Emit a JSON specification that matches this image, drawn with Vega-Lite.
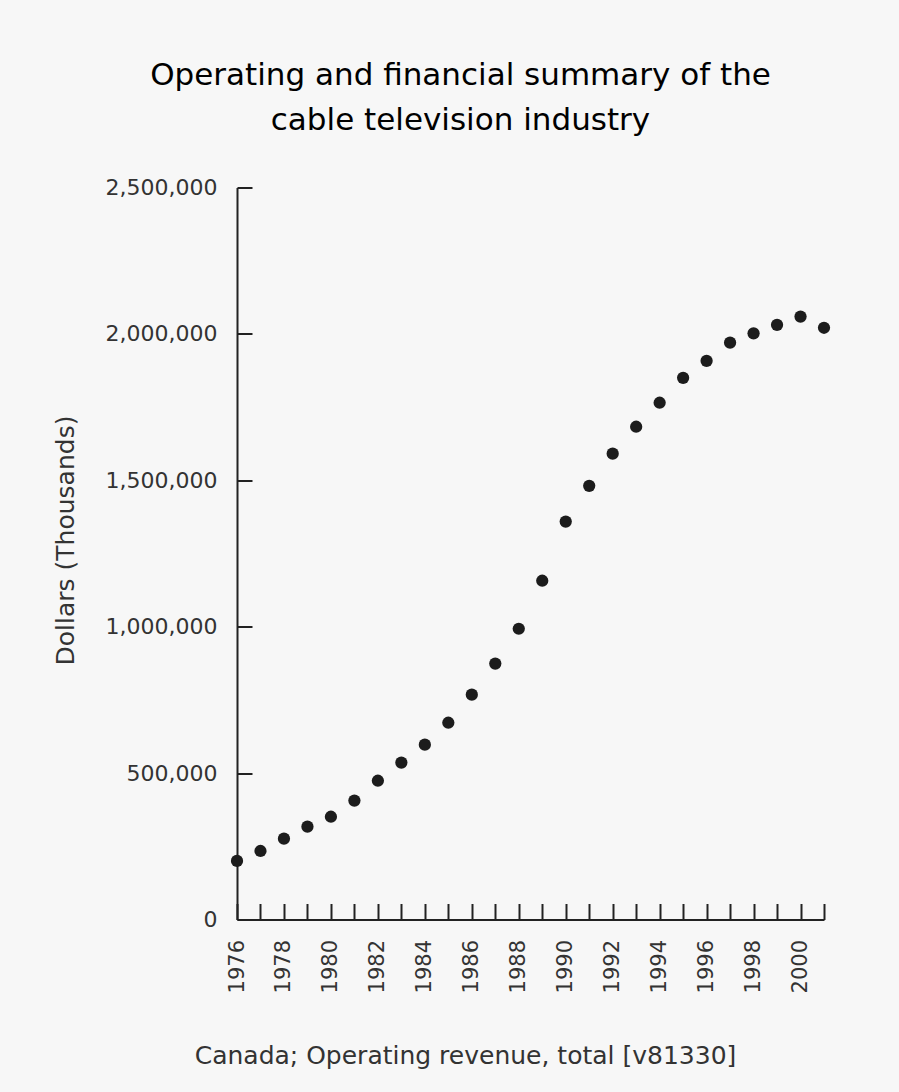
{
  "$schema": "https://vega.github.io/schema/vega-lite/v6.json",
  "width": 587,
  "height": 732,
  "autosize": {"type": "none"},
  "padding": {"left": 237, "top": 187.5, "right": 75, "bottom": 172.5},
  "background": "#f7f7f7",
  "title": {
    "text": ["Operating and financial summary of the", "cable television industry"],
    "font": "DejaVu Sans",
    "fontSize": 31,
    "fontWeight": "normal",
    "color": "#000000",
    "lineHeight": 45,
    "anchor": "middle",
    "dx": -70,
    "offset": 40
  },
  "data": {
    "values": [
      {"year": 1976, "revenue": 200000},
      {"year": 1977, "revenue": 234000},
      {"year": 1978, "revenue": 276000},
      {"year": 1979, "revenue": 317000},
      {"year": 1980, "revenue": 351000},
      {"year": 1981, "revenue": 406000},
      {"year": 1982, "revenue": 474000},
      {"year": 1983, "revenue": 536000},
      {"year": 1984, "revenue": 597000},
      {"year": 1985, "revenue": 672000},
      {"year": 1986, "revenue": 768000},
      {"year": 1987, "revenue": 874000},
      {"year": 1988, "revenue": 993000},
      {"year": 1989, "revenue": 1157000},
      {"year": 1990, "revenue": 1359000},
      {"year": 1991, "revenue": 1481000},
      {"year": 1992, "revenue": 1591000},
      {"year": 1993, "revenue": 1683000},
      {"year": 1994, "revenue": 1765000},
      {"year": 1995, "revenue": 1850000},
      {"year": 1996, "revenue": 1908000},
      {"year": 1997, "revenue": 1970000},
      {"year": 1998, "revenue": 2002000},
      {"year": 1999, "revenue": 2031000},
      {"year": 2000, "revenue": 2059000},
      {"year": 2001, "revenue": 2021000}
    ]
  },
  "layer": [
    {
      "mark": {"type": "circle", "size": 150, "color": "#1c1c1c", "opacity": 1},
      "encoding": {
        "x": {
          "field": "year",
          "type": "quantitative",
          "scale": {"domain": [1976, 2001], "nice": false, "zero": false},
          "axis": {
            "orient": "bottom",
            "title": "Canada; Operating revenue, total [v81330]",
            "values": [1976, 1978, 1980, 1982, 1984, 1986, 1988, 1990, 1992, 1994, 1996, 1998, 2000],
            "format": "d",
            "labelAngle": 270,
            "labelAlign": "right",
            "labelBaseline": "middle",
            "labelFont": "DejaVu Sans",
            "labelFontSize": 21,
            "labelColor": "#333333",
            "labelPadding": 20,
            "labelOverlap": false,
            "labelFlush": false,
            "grid": false,
            "domainColor": "#222222",
            "domainWidth": 2,
            "ticks": true,
            "tickSize": 0,
            "tickColor": "transparent",
            "titleFont": "DejaVu Sans",
            "titleFontSize": 25,
            "titleFontWeight": "normal",
            "titleColor": "#333333",
            "titleX": 228,
            "titleY": 144,
            "titleAlign": "center",
            "titleBaseline": "alphabetic"
          }
        },
        "y": {
          "field": "revenue",
          "type": "quantitative",
          "scale": {"domain": [0, 2500000], "nice": false},
          "axis": {
            "orient": "left",
            "title": "Dollars (Thousands)",
            "values": [0, 500000, 1000000, 1500000, 2000000, 2500000],
            "format": ",d",
            "labelFont": "DejaVu Sans",
            "labelFontSize": 22,
            "labelColor": "#333333",
            "labelPadding": 20,
            "labelBaseline": "middle",
            "labelFlush": false,
            "grid": false,
            "domainColor": "#222222",
            "domainWidth": 2,
            "ticks": true,
            "tickSize": 0,
            "tickColor": "transparent",
            "titleFont": "DejaVu Sans",
            "titleFontSize": 25,
            "titleFontWeight": "normal",
            "titleColor": "#333333",
            "titleAngle": 270,
            "titleX": -172,
            "titleY": 352.5,
            "titleAlign": "center",
            "titleBaseline": "middle"
          }
        }
      }
    },
    {
      "mark": {"type": "circle", "size": 150, "color": "#1c1c1c", "opacity": 0},
      "encoding": {
        "x": {
          "field": "year",
          "type": "quantitative",
          "scale": {"domain": [1976, 2001], "nice": false, "zero": false},
          "axis": {
            "orient": "top",
            "offset": -732,
            "title": null,
            "values": [1976, 1977, 1978, 1979, 1980, 1981, 1982, 1983, 1984, 1985, 1986, 1987, 1988, 1989, 1990, 1991, 1992, 1993, 1994, 1995, 1996, 1997, 1998, 1999, 2000, 2001],
            "labels": false,
            "domain": false,
            "grid": false,
            "ticks": true,
            "tickSize": 16,
            "tickWidth": 2,
            "tickColor": "#222222"
          }
        },
        "y": {
          "field": "revenue",
          "type": "quantitative",
          "scale": {"domain": [0, 2500000], "nice": false},
          "axis": {
            "orient": "right",
            "offset": -587,
            "title": null,
            "values": [0, 500000, 1000000, 1500000, 2000000, 2500000],
            "labels": false,
            "domain": false,
            "grid": false,
            "ticks": true,
            "tickSize": 15,
            "tickWidth": 2,
            "tickColor": "#222222"
          }
        }
      }
    }
  ],
  "resolve": {"axis": {"x": "independent", "y": "independent"}},
  "config": {"view": {"stroke": null}}
}
